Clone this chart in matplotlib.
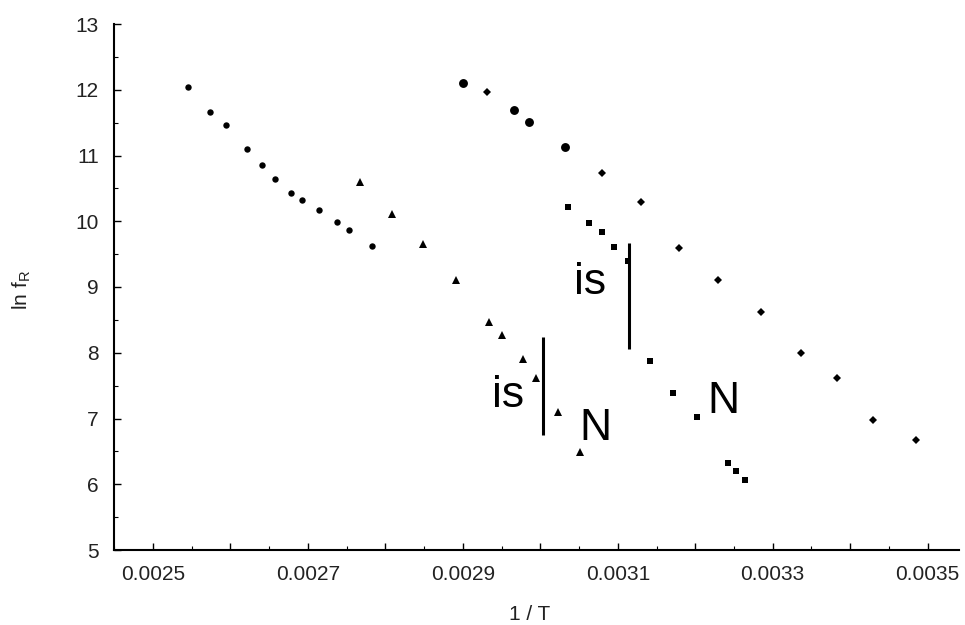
import matplotlib
matplotlib.use("Agg")
import matplotlib.pyplot as plt
from matplotlib.ticker import MultipleLocator, FuncFormatter

plt.rcParams['font.family'] = ['Liberation Sans', 'DejaVu Sans']

# left group: small circles, then triangles
circ_x = [0.002545, 0.002573, 0.002594, 0.002621, 0.002641, 0.002657,
          0.002678, 0.002692, 0.002714, 0.002737, 0.002753, 0.002783]
circ_y = [12.04, 11.66, 11.47, 11.10, 10.85, 10.64,
          10.43, 10.33, 10.17, 9.99, 9.86, 9.63]
tri_x = [0.002767, 0.002809, 0.002849, 0.002891, 0.002934,
         0.002951, 0.002978, 0.002995, 0.003023, 0.003051]
tri_y = [10.59, 10.11, 9.65, 9.11, 8.47, 8.27, 7.91, 7.62, 7.10, 6.49]

# right group: big circles, then diamonds
big_x = [0.002900, 0.002966, 0.002985, 0.003032]
big_y = [12.11, 11.69, 11.51, 11.13]
dia_x = [0.002931, 0.003080, 0.003130, 0.003179, 0.003230,
         0.003285, 0.003337, 0.003383, 0.003429, 0.003485]
dia_y = [11.96, 10.74, 10.30, 9.59, 9.10, 8.62, 7.99, 7.62, 6.98, 6.67]

# middle group: squares
sq_x = [0.003036, 0.003063, 0.003079, 0.003095, 0.003113, 0.003142,
        0.003171, 0.003202, 0.003242, 0.003253, 0.003264]
sq_y = [10.21, 9.97, 9.83, 9.61, 9.40, 7.87, 7.39, 7.03, 6.32, 6.20, 6.06]

# transition bars and labels
bar_x = [0.003003, 0.003115]
bar_lo = [6.75, 8.05]
bar_hi = [8.24, 9.67]
is_pos = [(0.002959, 7.17), (0.003064, 8.90)]
n_pos = [(0.003071, 6.67), (0.003236, 7.08)]

fig = plt.figure(figsize=(9.65, 6.25), dpi=100)
ax = fig.add_axes([0.1184, 0.12, 0.875, 0.8416])

ax.plot(circ_x, circ_y, 'o', color='black', ms=4.6, mew=0)
ax.plot(tri_x, tri_y, '^', color='black', ms=5.2, mew=0)
ax.plot(big_x, big_y, 'o', color='black', ms=6.4, mew=0)
ax.plot(dia_x, dia_y, 'D', color='black', ms=3.8, mew=0)
ax.plot(sq_x, sq_y, 's', color='black', ms=4.0, mew=0)

ax.vlines(bar_x, bar_lo, bar_hi, color='black', lw=2.2)
for x, y in is_pos:
    ax.text(x, y, 'is', fontsize=32, ha='center', va='baseline')
for x, y in n_pos:
    ax.text(x, y, 'N', fontsize=32, ha='center', va='baseline')

ax.set_xlim(0.00245, 0.00354)
ax.set_ylim(5, 13)

for s in ['top', 'right']:
    ax.spines[s].set_visible(False)
for s in ['left', 'bottom']:
    ax.spines[s].set_linewidth(1.5)

ax.xaxis.set_major_locator(MultipleLocator(0.0001))
ax.xaxis.set_minor_locator(MultipleLocator(0.00005))
ax.xaxis.set_major_formatter(FuncFormatter(
    lambda v, p: f'{v:.4f}' if round(v * 10000) % 2 == 1 else ''))
ax.yaxis.set_major_locator(MultipleLocator(1))
ax.yaxis.set_minor_locator(MultipleLocator(0.5))

ax.tick_params(which='major', direction='in', length=5, width=1, labelsize=15,
               labelcolor='#222222', pad=11)
ax.tick_params(which='minor', direction='in', length=3, width=0.8)

ax.set_xlabel('1 / T', fontsize=15, color='#222222')
ax.set_ylabel(r'ln $\mathregular{f_R}$', fontsize=15, color='#222222')
ax.xaxis.set_label_coords(0.492, -0.105)
ax.yaxis.set_label_coords(-0.096, 0.494)

fig.savefig('out.png', dpi=100)
